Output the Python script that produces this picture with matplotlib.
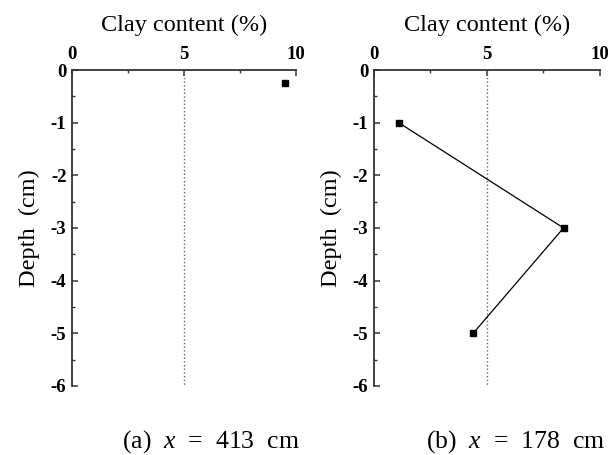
import matplotlib
matplotlib.use("Agg")
import matplotlib.pyplot as plt
from matplotlib.ticker import MultipleLocator

plt.rcParams['font.family'] = ['Liberation Serif', 'DejaVu Serif']
plt.rcParams['mathtext.fontset'] = 'custom'
plt.rcParams['mathtext.it'] = 'Liberation Serif:italic'
plt.rcParams['mathtext.rm'] = 'Liberation Serif'
plt.rcParams['axes.unicode_minus'] = False

# Data
clay_a = [9.5]
depth_a = [-0.25]
clay_b = [1.1, 8.4, 4.4]
depth_b = [-1, -3, -5]
x_ticks = [0, 5, 10]
y_ticks = [0, -1, -2, -3, -4, -5, -6]
ref_clay = 5
captions = ["(a)  $x$  =  413  cm", "(b)  $x$  =  178  cm"]

fig = plt.figure(figsize=(6.1, 4.55), dpi=100)
axes = [fig.add_axes([0.118, 0.152, 0.367, 0.694]),
        fig.add_axes([0.613, 0.152, 0.370, 0.694])]

datasets = [(clay_a, depth_a, False), (clay_b, depth_b, True)]
cap_x = [0.346, 0.845]

for ax, (cx, dy, line), cap, cxp in zip(axes, datasets, captions, cap_x):
    ax.plot([ref_clay, ref_clay], [0, -6], linestyle=':', color='#666666', lw=1.0)
    ax.plot(cx, dy, linestyle='-' if line else 'none', color='black', lw=0.9,
            marker='s', markersize=5, markerfacecolor='black')
    ax.set_xlim(0, 10)
    ax.set_ylim(-6, 0)
    ax.xaxis.set_ticks_position('top')
    ax.xaxis.set_label_position('top')
    ax.set_xticks(x_ticks)
    ax.set_yticks(y_ticks)
    ax.xaxis.set_minor_locator(MultipleLocator(2.5))
    ax.yaxis.set_minor_locator(MultipleLocator(0.5))
    ax.spines['bottom'].set_visible(False)
    ax.spines['right'].set_visible(False)
    for s in ['top', 'left']:
        ax.spines[s].set_linewidth(1.3)
        ax.spines[s].set_color('#333333')
    ax.tick_params(which='major', direction='in', length=4, width=1.1, color='#333333',
                   labelsize=13.5)
    ax.tick_params(axis='x', which='major', pad=5)
    ax.tick_params(axis='y', which='major', pad=4)
    ax.tick_params(which='minor', direction='in', length=2.5, width=1.0, color='#333333')
    for lab in ax.get_xticklabels() + ax.get_yticklabels():
        lab.set_fontweight('bold')
    ax.set_xlabel('Clay content (%)', fontsize=17.5, labelpad=11)
    ax.set_ylabel('Depth  (cm)', fontsize=17.5, labelpad=8)
    fig.text(cxp, 0.03, cap, fontsize=18.5, ha='center', va='center')

fig.savefig('out.png', dpi=100)
